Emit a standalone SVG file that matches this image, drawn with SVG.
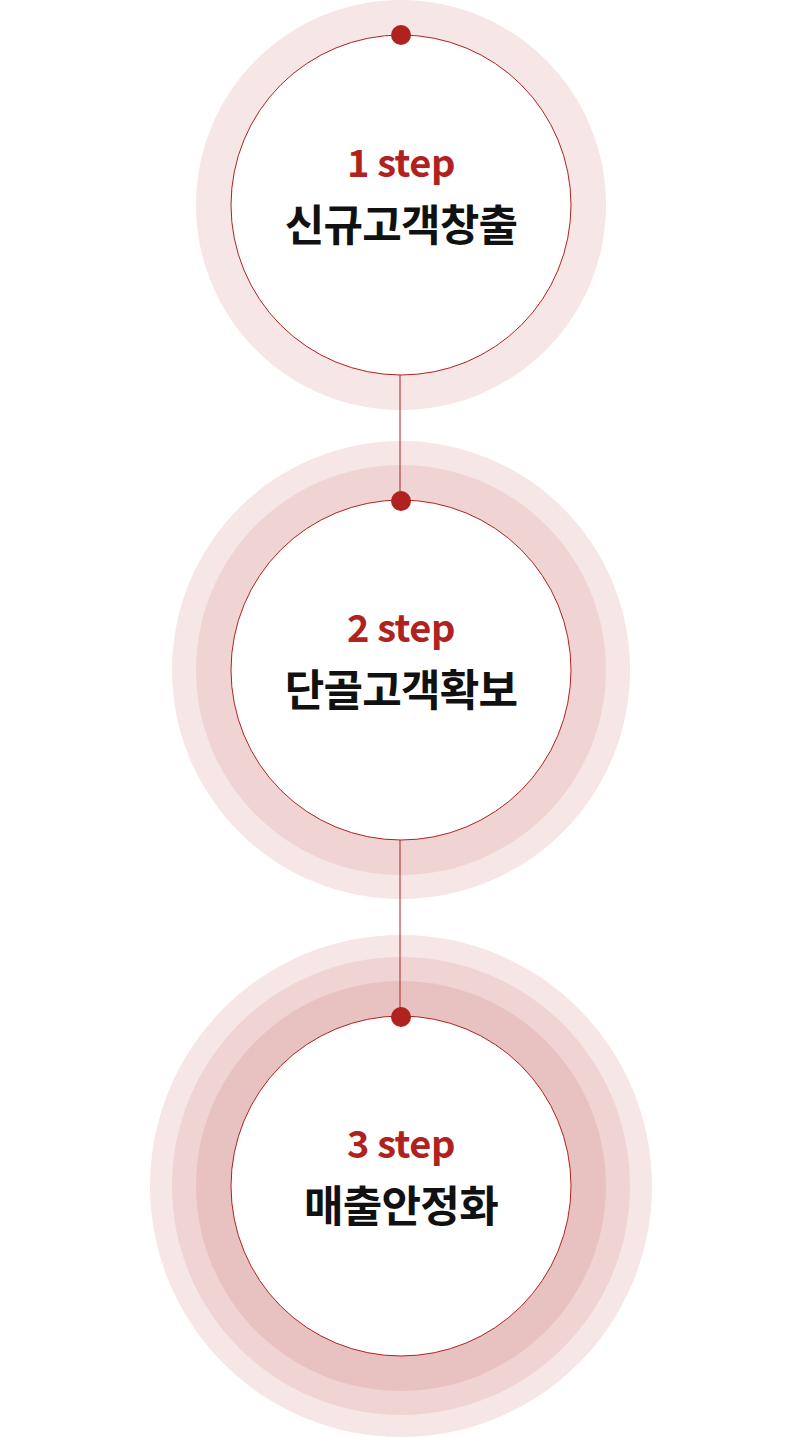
<svg xmlns="http://www.w3.org/2000/svg" width="800" height="1437" viewBox="0 0 800 1437">
<style>
.r1{fill:#f6e6e6}
.r2{fill:#f0d4d3}
.r3{fill:#e8c2c1}
.inner{fill:#fff;stroke:#b0221f;stroke-width:1}
.dot{fill:#b0221f}
.step{font-family:"Noto Sans CJK KR",sans-serif;font-weight:700;font-size:38px;fill:#b0221f;text-anchor:middle;letter-spacing:-0.5px}
.ttl{font-family:"Noto Sans CJK KR",sans-serif;font-weight:700;font-size:43px;fill:#111;text-anchor:middle;letter-spacing:-0.8px}
.conn{stroke:#b0221f;stroke-width:1;fill:none}
</style>
<rect width="800" height="1437" fill="#fff"/>
<g id="step1">
<circle class="r1" cx="401" cy="205" r="205"/>
<circle class="inner" cx="401" cy="205" r="170"/>
<text class="step" x="401" y="177">1 step</text>
<text class="ttl" x="401" y="241">신규고객창출</text>
</g>
<g id="step2">
<circle class="r1" cx="401" cy="670" r="229"/>
<circle class="r2" cx="401" cy="670" r="205"/>
<circle class="inner" cx="401" cy="670" r="170"/>
<text class="step" x="401" y="642">2 step</text>
<text class="ttl" x="401" y="706">단골고객확보</text>
</g>
<g id="step3">
<circle class="r1" cx="401" cy="1186" r="251"/>
<circle class="r2" cx="401" cy="1186" r="229"/>
<circle class="r3" cx="401" cy="1186" r="205"/>
<circle class="inner" cx="401" cy="1186" r="170"/>
<text class="step" x="401" y="1158">3 step</text>
<text class="ttl" x="401" y="1222">매출안정화</text>
</g>
<g id="connectors">
<line class="conn" x1="400" y1="375" x2="400" y2="500"/>
<line class="conn" x1="400" y1="840" x2="400" y2="1016"/>
<circle class="dot" cx="401" cy="35" r="10"/>
<circle class="dot" cx="401" cy="501" r="10"/>
<circle class="dot" cx="401" cy="1017" r="10"/>
</g>
</svg>
